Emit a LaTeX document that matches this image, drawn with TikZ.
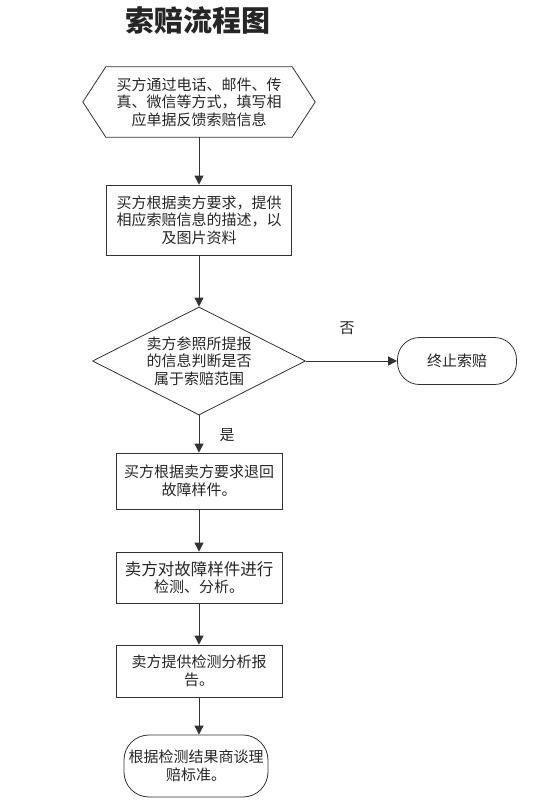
\documentclass[tikz,border=0pt]{standalone}
\usepackage{fontspec}
\setmainfont{Noto Sans CJK SC}
\usetikzlibrary{shapes.geometric,arrows.meta}

\begin{document}
\begin{tikzpicture}[x=1pt, y=-1pt, >={Triangle[length=9pt,width=9pt]},
    every node/.style={font=\fontsize{15}{17.5}\selectfont, align=center, inner sep=0pt, text=black!85},
    linea/.style={draw=black!80, line width=0.8pt},
    blocco/.style={linea, rectangle, minimum width=166pt},
    rombo/.style={linea, diamond, aspect=2, minimum width=213pt, minimum height=108pt},
    termine/.style={linea, rectangle},
    freccia/.style={black!80, line width=0.8pt, ->}]

    \useasboundingbox (0,0) rectangle (536,811);

    % --- TITOLO ---
    \node (titolo) at (198,21) {\fontsize{29}{32}\selectfont\bfseries 索赔流程图};

    % --- BLOCCHI DEL FLUSSO ---
    % Esagono iniziale (disegnato a mano intorno al nodo)
    \node[minimum width=186pt, minimum height=70pt] (avvio) at (199,102)
        {买方通过电话、邮件、传\\真、微信等方式，填写相\\应单据反馈索赔信息};
    \draw[linea] (avvio.north west) -- (avvio.north east) -- ([xshift=23pt]avvio.east)
        -- (avvio.south east) -- (avvio.south west) -- ([xshift=-23pt]avvio.west) -- cycle;

    \node[blocco, minimum width=185pt, minimum height=70pt] (descr) at (199,220)
        {买方根据卖方要求，提供\\相应索赔信息的描述，以\\及图片资料};

    \node[rombo] (giudizio) at (199,361)
        {\fontsize{15}{18.5}\selectfont 卖方参照所提报\\的信息判断是否\\属于索赔范围};

    \node[termine, rounded corners=22pt, minimum width=119pt, minimum height=47pt] (stop) at (457,361)
        {终止索赔};

    \node[blocco, minimum height=56pt] (reso) at (199,481)
        {买方根据卖方要求退回\\故障样件。};

    \node[blocco, minimum height=51pt] (analisi) at (199,577.5)
        {\fontsize{16.5}{23}\selectfont 卖方对故障样件进行\\检测、分析。};

    \node[blocco, minimum height=52pt] (rapporto) at (199,671)
        {卖方提供检测分析报\\告。};

    \node[termine, rounded corners=25pt, minimum width=144pt, minimum height=62pt] (fine) at (196,766)
        {根据检测结果商谈理\\赔标准。};

    % --- FRECCE ---
    \draw[freccia] (avvio.south) -- (descr.north);
    \draw[freccia] (descr.south) -- (giudizio.north);
    \draw[freccia] (giudizio.south) -- (reso.north);
    \draw[freccia] (giudizio.east) -- (stop.west);
    \draw[freccia] (reso.south) -- (analisi.north);
    \draw[freccia] (analisi.south) -- (rapporto.north);
    \draw[freccia] (rapporto.south) -- (rapporto.south |- fine.north);

    % --- ETICHETTE ---
    \node (no) at (347,328) {否};
    \node (si) at (227,435) {是};

\end{tikzpicture}
\end{document}
